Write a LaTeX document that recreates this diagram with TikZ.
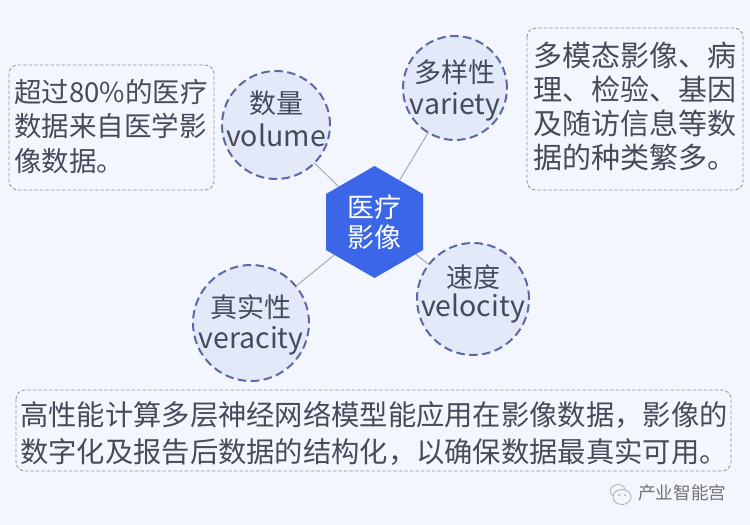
\documentclass[tikz,border=0pt]{standalone}
\usepackage{fontspec}
\setmainfont{Noto Sans CJK SC}
\usetikzlibrary{shapes.geometric}
\definecolor{bgc}{HTML}{F4F6FD}
\definecolor{circfill}{HTML}{E3E9F8}
\definecolor{circline}{HTML}{5A6AA8}
\definecolor{boxline}{HTML}{8C93AA}
\definecolor{hexc}{HTML}{3B66E8}
\definecolor{txt}{HTML}{454B5A}
\definecolor{conn}{HTML}{A4ABC0}
\newcommand{\lat}[1]{{\fontsize{28.5}{30}\selectfont #1}}
\tikzset{
  x=1pt,y=-1pt,
  vcircle/.style={circle,draw=circline,fill=circfill,line width=2pt,dash pattern=on 8.5pt off 4.5pt,inner sep=0pt,outer sep=0pt},
  vlabel/.style={inner sep=0pt,text=txt,font=\fontsize{27}{33}\selectfont},
  infobox/.style={draw=boxline,line width=.8pt,dash pattern=on 3.5pt off 2pt,rounded corners=9pt},
  infotext/.style={anchor=north west,inner sep=0pt,text=txt,align=left},
  hexnode/.style={regular polygon,regular polygon sides=6,regular polygon rotate=30,fill=hexc,text=white,inner sep=0pt,outer sep=0pt,minimum size=112pt,align=center,font=\fontsize{27}{30}\selectfont},
  link/.style={draw=conn,line width=1pt},
  markline/.style={draw=gray!70,line width=.7pt,fill=bgc}
}
\begin{document}
\begin{tikzpicture}
\useasboundingbox (0,0) rectangle (750,525);
\fill[bgc] (0,0) rectangle (750,525);
% hub and connectors
\node[hexnode] (hub) at (374.5,222) {医疗\\影像};
\node[vcircle,minimum size=108pt] (vol) at (276,125) {};
\node[vcircle,minimum size=104pt] (var) at (455,88) {};
\node[vcircle,minimum size=112pt] (vel) at (473,299) {};
\node[vcircle,minimum size=116pt] (ver) at (251,323) {};
\draw[link] (hub) -- (vol);
\draw[link] (hub) -- (var);
\draw[link] (hub) -- (vel);
\draw[link] (hub) -- (ver);
\node[vlabel] (volA) at (276,103) {数量};
\node[vlabel] (volB) at (276,135) {\lat{volume}};
\node[vlabel] (varA) at (455,72) {多样性};
\node[vlabel] (varB) at (455,107) {\lat{variety}};
\node[vlabel] (velA) at (473,277) {速度};
\node[vlabel] (velB) at (473,308) {\lat{velocity}};
\node[vlabel] (verA) at (251,307) {真实性};
\node[vlabel] (verB) at (251,341) {\lat{veracity}};
% boxes
\coordinate (lbA) at (9,65); \coordinate (lbB) at (214,190);
\coordinate (rbA) at (527,28); \coordinate (rbB) at (743,190);
\coordinate (bbA) at (16,390); \coordinate (bbB) at (731,471);
\draw[infobox] (lbA) rectangle (lbB);
\draw[infobox] (rbA) rectangle (rbB);
\draw[infobox] (bbA) rectangle (bbB);
\node[infotext,font=\fontsize{27.5}{34.5}\selectfont] (lt) at (14,79) {超过80\%的医疗\\数据来自医学影\\像数据。};
\node[infotext,font=\fontsize{29}{34}\selectfont] (rt) at (533,42) {多模态影像、病\\理、检验、基因\\及随访信息等数\\据的种类繁多。};
\node[infotext,font=\fontsize{28.3}{37.5}\selectfont] (bt) at (20,401) {高性能计算多层神经网络模型能应用在影像数据，影像的\\数字化及报告后数据的结构化，以确保数据最真实可用。};
% watermark
\draw[markline] (618,491) ellipse (7.5pt and 6.5pt);
\draw[markline] (622,497) ellipse (9pt and 7.5pt);
\fill[gray!70] (619,495) circle (1pt) (625,495) circle (1pt);
\node[anchor=west,inner sep=0pt,text=gray!90!black,font=\fontsize{17.6}{20}\selectfont] (wm) at (638,493) {产业智能宫};
\end{tikzpicture}
\end{document}
